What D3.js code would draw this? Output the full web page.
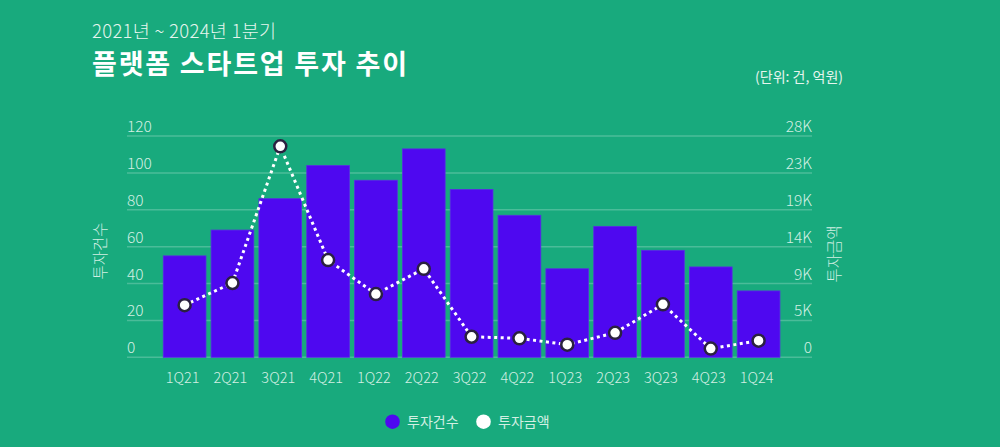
<!DOCTYPE html>
<html>
<head>
<meta charset="utf-8">
<script src="https://cdn.jsdelivr.net/npm/d3@7"></script>
<style>
  html, body { margin: 0; padding: 0; background: #18aa7d; }
  svg { display: block; }
  text { font-family: "Noto Sans CJK KR", "Noto Sans", sans-serif; }
</style>
</head>
<body>
<svg id="chart" width="1000" height="447"></svg>
<script>
const categories = ["1Q21","2Q21","3Q21","4Q21","1Q22","2Q22","3Q22","4Q22","1Q23","2Q23","3Q23","4Q23","1Q24"];
const dealCounts = [55, 69, 86, 104, 96, 113, 91, 77, 48, 71, 58, 49, 36];
const dealAmounts = [6600, 9400, 26700, 12300, 8000, 11200, 2600, 2400, 1600, 3100, 6700, 1100, 2100];
const leftTicks = [0, 20, 40, 60, 80, 100, 120];
const rightTicks = [0, 28000/6, 28000*2/6, 28000*3/6, 28000*4/6, 28000*5/6, 28000];
const seriesNames = ["투자건수", "투자금액"];

const svg = d3.select("#chart");
const W = 1000, H = 447;
const FONT = "'Noto Sans CJK KR', 'Noto Sans', sans-serif";
const LIGHT = "#d2efe3";
svg.append("rect").attr("width", W).attr("height", H).attr("fill", "#18aa7d");

const plotLeft = 127, plotRight = 812;
const y0 = 357.3, y1 = 136;

const x = d3.scaleBand().domain(categories).range([160.7, 782.5]).paddingInner(0.107).paddingOuter(0.0535);
const yL = d3.scaleLinear().domain([0, 120]).range([y0, y1]);
const yR = d3.scaleLinear().domain([0, 28000]).range([y0, y1]);

// Titles
svg.append("text").attr("x", 92).attr("y", 38).attr("fill", "#e6f5ee")
  .attr("font-size", 18.5).attr("letter-spacing", 0.3).attr("font-weight", 300).text("2021년 ~ 2024년 1분기");
svg.append("text").attr("x", 92).attr("y", 74).attr("fill", "#ffffff")
  .attr("font-size", 27).attr("letter-spacing", 1.8).attr("font-weight", 700).text("플랫폼 스타트업 투자 추이");
svg.append("text").attr("x", 843).attr("y", 82).attr("fill", "#e6f5ee")
  .attr("text-anchor", "end").attr("font-size", 14).attr("font-weight", 400).text("(단위: 건, 억원)");

// Gridlines
svg.append("g").selectAll("line").data(leftTicks).join("line")
  .attr("x1", plotLeft).attr("x2", plotRight)
  .attr("y1", d => yL(d)).attr("y2", d => yL(d))
  .attr("stroke", "rgba(255,255,255,0.22)").attr("stroke-width", 1.5);

// Left axis labels
const leftAxis = d3.axisLeft(yL).tickValues(leftTicks).tickSize(0).tickFormat(d3.format("d"));
const gL = svg.append("g").attr("transform", `translate(${plotLeft},0)`).call(leftAxis);
gL.select(".domain").remove();
gL.selectAll("text").attr("x", 0).attr("dy", "-4.5").attr("text-anchor", "start")
  .attr("font-size", 15.5).attr("fill", LIGHT)
  .attr("font-family", FONT).attr("font-weight", 300);

// Right axis labels
const rightAxis = d3.axisRight(yR).tickValues(rightTicks).tickSize(0)
  .tickFormat(d => d === 0 ? "0" : Math.round(d / 1000) + "K");
const gR = svg.append("g").attr("transform", `translate(${plotRight},0)`).call(rightAxis);
gR.select(".domain").remove();
gR.selectAll("text").attr("x", 0).attr("dy", "-4.5").attr("text-anchor", "end")
  .attr("font-size", 15.5).attr("fill", LIGHT)
  .attr("font-family", FONT).attr("font-weight", 300);

// Axis titles
svg.append("text").attr("transform", "translate(106,251) rotate(-90)")
  .attr("text-anchor", "middle").attr("font-size", 15.5).attr("fill", LIGHT).attr("font-weight", 300)
  .text(seriesNames[0]);
svg.append("text").attr("transform", "translate(840,254) rotate(-90)")
  .attr("text-anchor", "middle").attr("font-size", 15.5).attr("fill", LIGHT).attr("font-weight", 300)
  .text(seriesNames[1]);

// Bars
svg.append("g").selectAll("rect").data(categories).join("rect")
  .attr("x", d => x(d)).attr("width", x.bandwidth())
  .attr("y", (d, i) => yL(dealCounts[i]))
  .attr("height", (d, i) => y0 - yL(dealCounts[i]))
  .attr("fill", "#4e08f0")
  .attr("stroke", "#5a2ae6").attr("stroke-width", 0.8);

// X axis labels
const xAxis = d3.axisBottom(x).tickSize(0);
const gX = svg.append("g").attr("transform", `translate(0,${y0})`).call(xAxis);
gX.select(".domain").remove();
gX.selectAll("text").attr("dy", "0").attr("y", 26).attr("dx", "-2")
  .attr("font-size", 14.5).attr("fill", LIGHT)
  .attr("font-family", FONT).attr("font-weight", 300);

// Line
const pts = categories.map((c, i) => [x(c) + x.bandwidth() / 2, yR(dealAmounts[i])]);
svg.append("path").attr("d", d3.line().curve(d3.curveLinear)(pts))
  .attr("fill", "none").attr("stroke", "#ffffff").attr("stroke-width", 3)
  .attr("stroke-dasharray", "3,3.5");

svg.append("g").selectAll("circle").data(pts).join("circle")
  .attr("cx", d => d[0]).attr("cy", d => d[1]).attr("r", 6)
  .attr("fill", "#ffffff").attr("stroke", "#2b2140").attr("stroke-width", 2.5);

// Legend
const lg = svg.append("g");
lg.append("circle").attr("cx", 392.5).attr("cy", 421.7).attr("r", 7.3).attr("fill", "#4e08f0");
lg.append("text").attr("x", 407).attr("y", 427).attr("font-size", 14).attr("fill", LIGHT).text(seriesNames[0]);
lg.append("circle").attr("cx", 483.5).attr("cy", 421.7).attr("r", 7.3).attr("fill", "#ffffff");
lg.append("text").attr("x", 498).attr("y", 427).attr("font-size", 14).attr("fill", LIGHT).text(seriesNames[1]);
</script>
</body>
</html>
